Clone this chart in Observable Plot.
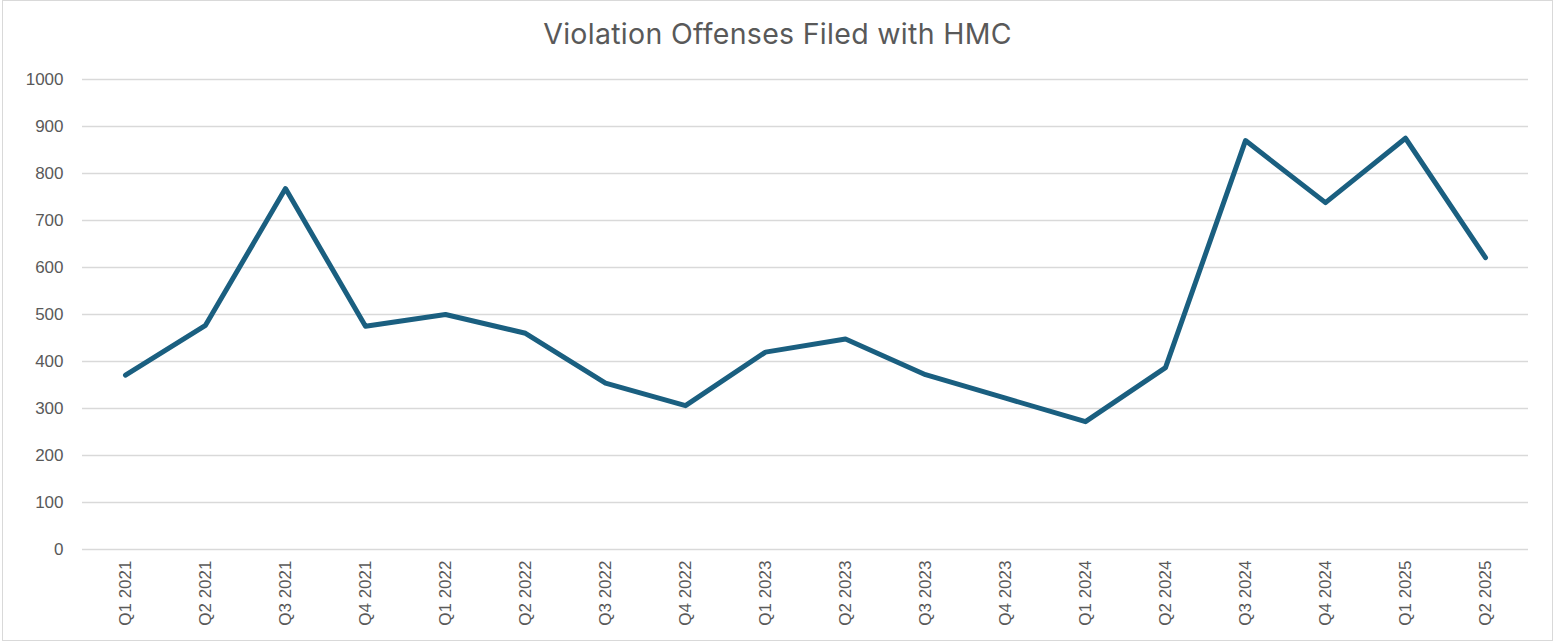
<!DOCTYPE html>
<html>
<head>
<meta charset="utf-8">
<script src="https://cdn.jsdelivr.net/npm/d3@7"></script>
<script src="https://cdn.jsdelivr.net/npm/@observablehq/plot@0.6"></script>
<style>
  html, body { margin: 0; padding: 0; background: #fff; }
  #frame {
    position: absolute; left: 2px; top: 0px;
    width: 1549px; height: 639px;
    border: 1px solid #d9d9d9; background: #fff;
  }
  #title {
    position: absolute; left: 0; top: 15px; width: 100%;
    text-align: center; font-family: Inter, "Open Sans", sans-serif;
    font-size: 28.5px; color: #595959; letter-spacing: 0.3px; line-height: 36px;
  }
  #chart { position: absolute; left: 0; top: 60px; }
</style>
</head>
<body>
<div id="frame">
  <div id="title">Violation Offenses Filed with HMC</div>
  <div id="chart"></div>
</div>
<script>
const quarters = ["Q1 2021","Q2 2021","Q3 2021","Q4 2021","Q1 2022","Q2 2022","Q3 2022","Q4 2022","Q1 2023","Q2 2023","Q3 2023","Q4 2023","Q1 2024","Q2 2024","Q3 2024","Q4 2024","Q1 2025","Q2 2025"];
const offenses = [371, 477, 768, 475, 500, 460, 354, 306, 420, 448, 372, 322, 272, 387, 870, 738, 875, 621];
const yTicks = [0, 100, 200, 300, 400, 500, 600, 700, 800, 900, 1000];

const data = quarters.map((q, i) => ({quarter: q, value: offenses[i]}));

const chart = Plot.plot({
  width: 1549,
  height: 579,
  marginLeft: 79,
  marginRight: 24,
  marginTop: 18,
  marginBottom: 91,
  style: {fontFamily: "'Liberation Sans', Arial, sans-serif", fontSize: "17px", color: "#595959", background: "#fff"},
  x: {type: "point", domain: quarters, padding: 0.5, label: null},
  y: {domain: [0, 1000], label: null},
  marks: [
    Plot.ruleY(yTicks, {stroke: "#d9d9d9", strokeWidth: 1.5}),
    Plot.axisY({ticks: yTicks, tickFormat: d3.format("d"), tickSize: 0, tickPadding: 19, label: null, fontSize: 17, fill: "#595959"}),
    Plot.axisX({tickSize: 0, tickPadding: 11, tickRotate: -90, label: null, fontSize: 17, fill: "#595959"}),
    Plot.line(data, {x: "quarter", y: "value", stroke: "#1a5f80", strokeWidth: 5, strokeLinejoin: "round", strokeLinecap: "round"})
  ]
});
document.getElementById("chart").appendChild(chart);
</script>
</body>
</html>
